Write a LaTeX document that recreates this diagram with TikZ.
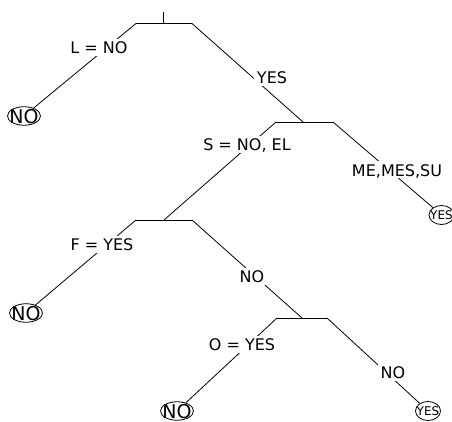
\documentclass[tikz,border=0pt]{standalone}
\usepackage{fontspec}
\setmainfont{DejaVu Sans}
\usetikzlibrary{shapes.geometric}
\newcommand\leaftxt[1]{\makebox[0pt]{\raisebox{-0.5\height}[0pt][0pt]{#1}}}
\begin{document}
\begin{tikzpicture}[x=1pt,y=-1pt,
  edge/.style={draw, line width=0.8pt},
  lab/.style={fill=white, inner sep=2.5pt, text height=12pt, text depth=0pt, font=\fontsize{16}{19}\selectfont},
  leafno/.style={ellipse, draw, line width=0.8pt, inner sep=0pt, minimum width=33pt, minimum height=18.5pt, font=\fontsize{19}{23}\selectfont},
  leafyes/.style={ellipse, draw, line width=0.8pt, inner sep=0pt, minimum width=25pt, minimum height=19pt, font=\fontsize{12}{14}\selectfont}]
\useasboundingbox (0,0) rectangle (452,422);
% bar coordinates
\coordinate (top) at (163,12);
\coordinate (r) at (163,23.5);
\coordinate (rL) at (136,23.5);
\coordinate (rR) at (192,23.5);
\coordinate (b2) at (303,122);
\coordinate (b2L) at (276,122);
\coordinate (b2R) at (333,122);
\coordinate (b3) at (164,220);
\coordinate (b3L) at (136,220);
\coordinate (b3R) at (192,220);
\coordinate (b4) at (302,318);
\coordinate (b4L) at (277,318);
\coordinate (b4R) at (327,318);
% leaves
\node[leafno] (n1) at (24,116) {\leaftxt{NO}};
\node[leafyes] (y1) at (441.5,215) {\leaftxt{YES}};
\node[leafno] (n2) at (26,313) {\leaftxt{NO}};
\node[leafno] (n3) at (177,411) {\leaftxt{NO}};
\node[leafyes] (y2) at (428,411) {\leaftxt{YES}};
% edges
\draw[edge] (top) -- (r);
\draw[edge] (rL) -- (rR);
\draw[edge] (rL) -- (n1);
\draw[edge] (rR) -- (b2);
\draw[edge] (b2L) -- (b2R);
\draw[edge] (b2L) -- (b3);
\draw[edge] (b2R) -- (y1);
\draw[edge] (b3L) -- (b3R);
\draw[edge] (b3L) -- (n2);
\draw[edge] (b3R) -- (b4);
\draw[edge] (b4L) -- (b4R);
\draw[edge] (b4L) -- (n3);
\draw[edge] (b4R) -- (y2);
% labels
\node[lab] (lL) at (99,48) {L = NO};
\node[lab] (lYes) at (272,78) {YES};
\node[lab] (lS) at (247,145) {S = NO, EL};
\node[lab] (lME) at (397,170) {ME,MES,SU};
\node[lab] (lF) at (102,244) {F = YES};
\node[lab] (lNo1) at (252,276) {NO};
\node[lab] (lO) at (242,344) {O = YES};
\node[lab] (lNo2) at (393,372) {NO};
\end{tikzpicture}
\end{document}
